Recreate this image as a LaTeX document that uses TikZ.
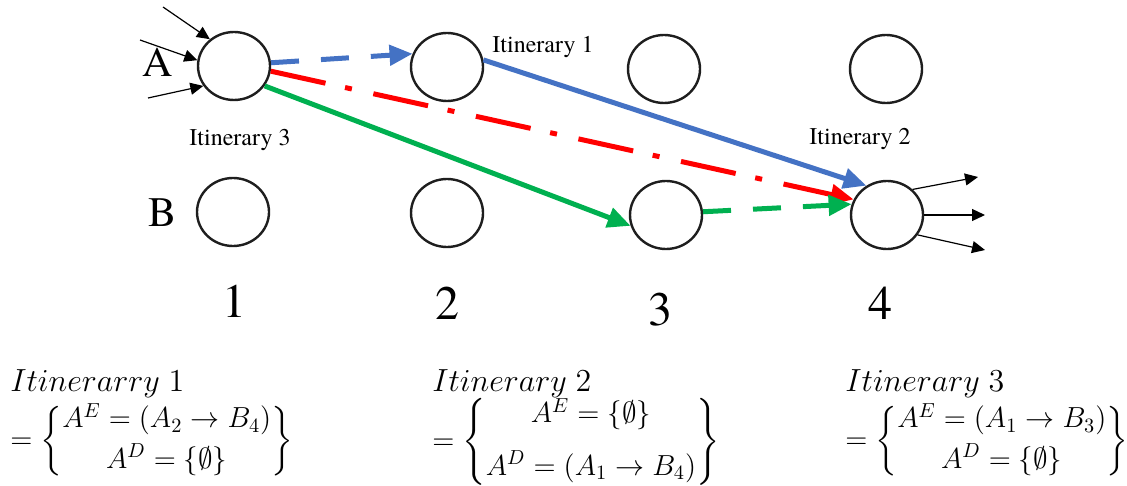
\RequirePackage{fix-cm}
\documentclass[tikz,border=0pt]{standalone}
\usepackage{amsmath}
\usepackage{amssymb}
\usepackage{fontspec}
\newfontfamily\tnr{texgyretermes-regular.otf}
\usetikzlibrary{arrows.meta,shapes.geometric}
\definecolor{cBlueD}{HTML}{4472C4}
\definecolor{cRedD}{HTML}{FF0000}
\definecolor{cGreenD}{HTML}{00B050}
\definecolor{cRing}{HTML}{1E1E1E}
\tikzset{
  stn/.style     = {ellipse, draw=cRing, line width=1.2pt, minimum width=36pt,
                    minimum height=34pt, inner sep=0pt},
  feed/.style    = {black, line width=0.6pt, -{Triangle[length=6.5pt,width=6pt]}},
  fat/.style     = {line width=2.5pt, -{Triangle[length=11.5pt,width=10pt]}},
  dashA/.style   = {fat, dash pattern=on 14pt off 11pt},
  dashdotB/.style= {fat, dash pattern=on 28pt off 10pt on 3.5pt off 11pt},
  itin/.style    = {font=\tnr\fontsize{12}{14}\selectfont, inner sep=0pt},
  rowlbl/.style  = {font=\tnr\fontsize{21}{24}\selectfont, inner sep=0pt},
  collbl/.style  = {font=\tnr\fontsize{24}{28}\selectfont, inner sep=0pt},
  ttl/.style     = {font=\fontsize{16}{19}\selectfont, inner sep=0pt, anchor=base west},
  eqn/.style     = {font=\fontsize{14.5}{17}\selectfont, inner sep=0pt, anchor=west},
}

\begin{document}
\begin{tikzpicture}[x=0.5pt,y=-0.5pt]
  \useasboundingbox (0,0) rectangle (1127,486);
  % stations
  \node[stn] (a1) at (234,66) {};
  \node[stn] (a2) at (447,67) {};
  \node[stn] (a3) at (664,69) {};
  \node[stn] (a4) at (886,69) {};
  \node[stn] (b1) at (233,212) {};
  \node[stn] (b2) at (447,213) {};
  \node[stn] (b3) at (666,215) {};
  \node[stn] (b4) at (887,215) {};
  \node[rowlbl] (rA) at (158,62) {A};
  \node[rowlbl] (rB) at (163,213) {B};
  \foreach \c/\x/\y in {1/234/301, 2/447/303, 3/660/310, 4/880/303}
    \node[collbl] (col\c) at (\x,\y) {\c};
  \node[itin] (it1) at (543,47) {Itinerary 1};
  \node[itin] (it3) at (240,140) {Itinerary 3};
  \node[itin] (it2) at (860,139) {Itinerary 2};
  % in and out flows
  \coordinate (in1) at (163,7);
  \coordinate (in2) at (140,40);
  \coordinate (in3) at (148,98);
  \draw[feed] (in1) -- (a1.132);
  \draw[feed] (in2) -- (a1.171);
  \draw[feed] (in3) -- (a1.213);
  \coordinate (out1) at (978,177);
  \coordinate (out2) at (985,215);
  \coordinate (out3) at (985,250);
  \draw[feed] (b4.45) -- (out1);
  \draw[feed] (b4.0) -- (out2);
  \draw[feed] (b4.-33) -- (out3);
  % itineraries
  \draw[dashA, cBlueD] (a1.5) -- (a2.159);
  \draw[fat, cBlueD] (a2.11) -- (b4.125);
  \draw[dashdotB, cRedD] (a1.-8) -- (b4.155);
  \draw[fat, cGreenD] (a1.-33) -- (b3.-163);
  \draw[dashA, cGreenD] (b3.5) -- (b4.163);
  % sets
  \node[ttl] (t1) at (10,391) {$Itinerarry\;1$};
  \node[eqn] (e1) at (10,441) {$=\left\{\begin{matrix} A^E=(A_2\rightarrow B_4)\\[3pt] A^D=\{\emptyset\}\end{matrix}\right\}$};
  \node[ttl] (t2) at (432,391) {$Itinerary\;2$};
  \node[eqn] (e2) at (432,442) {$=\left\{\begin{matrix} A^E=\{\emptyset\}\\[9pt] A^D=(A_1\rightarrow B_4)\end{matrix}\right\}$};
  \node[ttl] (t3) at (845,391) {$Itinerary\;3$};
  \node[eqn] (e3) at (845,441) {$=\left\{\begin{matrix} A^E=(A_1\rightarrow B_3)\\[3pt] A^D=\{\emptyset\}\end{matrix}\right\}$};
\end{tikzpicture}
\end{document}
